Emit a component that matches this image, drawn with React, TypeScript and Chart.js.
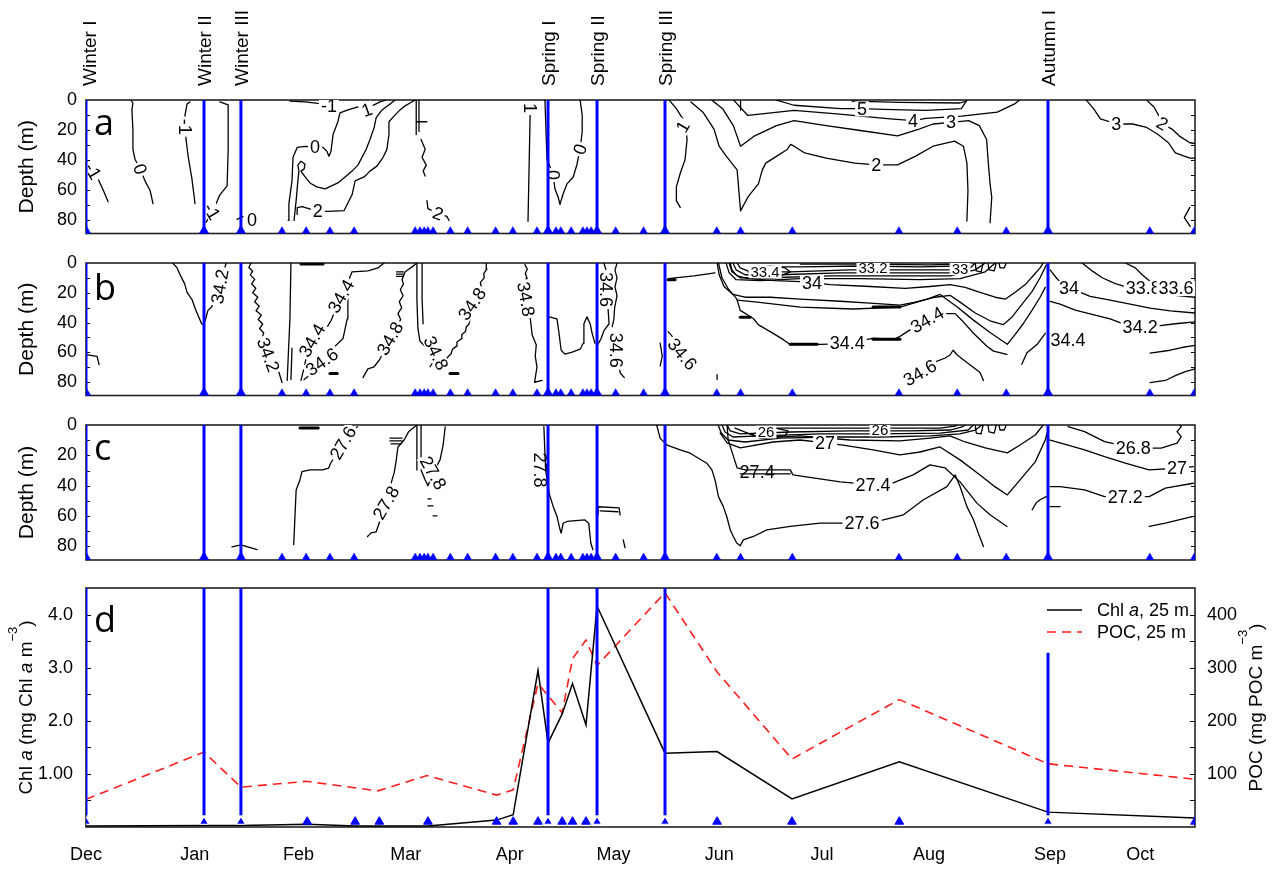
import React, { useEffect, useRef } from 'react';
import { Chart, registerables } from 'chart.js';

Chart.register(...registerables);
const FONT = '"Liberation Sans", Arial, Helvetica, sans-serif';
Chart.defaults.font.family = FONT;
Chart.defaults.color = '#000';

// ---------- time axis (days since 1 December) ----------
const X_MAX = 321.4;
const monthTickDays = [0, 31.5, 61.6, 92.7, 122.8, 152.9, 183.5, 213.3, 244.3, 279.4, 305.5];
const monthLabels = ['Dec', 'Jan', 'Feb', 'Mar', 'Apr', 'May', 'Jun', 'Jul', 'Aug', 'Sep', 'Oct'];

// sampling campaigns (blue lines)
const eventDays = [0, 34.2, 44.9, 133.9, 148.1, 167.8, 278.8];
const eventNames = ['Winter I', 'Winter II', 'Winter III', 'Spring I', 'Spring II', 'Spring III', 'Autumn I'];

// CTD casts (triangles, panels a-c)
const ctdDays = [0, 34.2, 44.9, 56.8, 63.8, 70.7, 77.7, 95.4, 96.8, 98.0, 99.1, 100.6, 105.6, 110.6, 118.7,
  123.7, 130.7, 133.9, 136.2, 137.6, 140.6, 144.0, 145.2, 146.4, 148.1, 153.5, 161.6, 167.8, 182.8, 189.7,
  204.7, 235.6, 252.5, 266.7, 278.8, 308.3, 321.2];

// ---------- depth axis ----------
const DEPTH_MAX = 89;
const TRI_DEPTH = 87.5;
const depthTicks = [0, 20, 40, 60, 80];
const depthMinorTicks = [10, 20, 30, 40, 50, 60, 70, 80];

// ---------- panel d data ----------
const chlDays = [0, 34.2, 44.9, 64.1, 78, 85, 99.1, 119, 123.8, 131, 133.9, 138, 141, 144.9, 148.1, 167.8, 182.9, 204.6, 235.7, 278.8, 321.4];
const chlValues = [0.02, 0.03, 0.03, 0.05, 0.02, 0.02, 0.02, 0.13, 0.23, 2.95, 1.58, 2.13, 2.70, 1.92, 4.16, 1.39, 1.42, 0.53, 1.23, 0.28, 0.17];
const pocDays = [0, 34.2, 44.9, 63.8, 84.6, 98.8, 119, 123.8, 131, 138, 141, 144.9, 148.1, 167.8, 182.9, 204.6, 235.7, 278.8, 321.4];
const pocValues = [52, 141, 75, 86, 68, 97, 60, 70, 270, 215, 317, 352, 304, 441, 292, 128, 240, 119, 90];
const dSampleDays = [0, 34.2, 44.9, 64.1, 78, 85, 99.1, 119, 123.8, 131, 133.9, 138, 141, 144.9, 148.1, 167.8, 182.9, 204.6, 235.7, 278.8, 321.4];
const dBlueTops = [4.5, 4.5, 4.5, 4.5, 4.5, 4.5, 3.28];
const dBlueBottom = 0.22;
const chlTickValues = [1, 2, 3, 4];
const chlTickLabels = ['1.00', '2.0', '3.0', '4.0'];
const chlMinorTicks = [0.5, 1, 1.5, 2, 2.5, 3, 3.5, 4];
const pocTickValues = [100, 200, 300, 400];
const pocMinorTicks = [50, 100, 150, 200, 250, 300, 350, 400];

// ---------- panel a: temperature contours [day, depth] ----------
const tempLines = [
  [[3.5, 52.6], [4.3, 56.6], [5.2, 61.2], [6.4, 67.8]],
  [[13.0, 0], [13.6, 2], [13.3, 6.6], [13.6, 19.7], [13.6, 32.9], [14.2, 39.5], [15.7, 46], [17.1, 53.9], [18.6, 60.5], [19.1, 65.8], [19.4, 69.1]],
  [[30.1, 1.3], [29.3, 2.6], [28.7, 9.9], [28.7, 17.8], [29.0, 26.3], [29.6, 37.5], [30.7, 52.6], [31.6, 69.1]],
  [[38.8, 1.3], [41.2, 3.3], [41.2, 32.9], [40.9, 57.2], [38.8, 63.2], [37.7, 69.1], [36.5, 74.3], [35.4, 78.9], [34.8, 81.6]],
  [[43.8, 79.6], [45.5, 77.6]],
  [[59.1, 0.7], [63.5, 1.3], [68.4, 2.6], [70.4, 3.9]],
  [[58.6, 80.3], [58.8, 69.1], [59.7, 53.9], [60.0, 38.2], [61.2, 31.6], [63.5, 30.9], [66.4, 31.6], [68.7, 31.6], [69.8, 34.2], [70.4, 37.5], [71.0, 34.2], [71.6, 23.0], [73.0, 14.5], [73.6, 8.6], [75.9, 6.6], [78.8, 4.6], [81.4, 6.6], [82.9, 3.9], [85.2, 1.3], [87.0, 0]],
  [[60.3, 80.3], [60.9, 67.1], [61.4, 53.9], [61.7, 47.4], [61.4, 43.4], [62.3, 40.8], [63.5, 42.8], [63.2, 46.1], [62.3, 47.4], [63.5, 51.3], [64.9, 55.3], [66.9, 57.9], [69.3, 59.2], [73.0, 55.3], [75.1, 51.3], [77.1, 47.4], [78.8, 43.4], [80.0, 38.2], [81.2, 32.9], [82.3, 26.3], [83.5, 18.4], [84.1, 11.8], [85.8, 6.6], [88.1, 2.6], [89.6, 0]],
  [[61.2, 76.3], [61.2, 71.7], [62.6, 71.1], [67.2, 74.3], [70.1, 74.3], [74.8, 73.7], [77.1, 63.2], [78.0, 53.9], [80.6, 51.3], [82.3, 47.4], [84.3, 44.1], [86.1, 38.2], [87.2, 32.9], [87.8, 23.0], [87.8, 14.5], [89.6, 9.9], [91.0, 6.6], [92.5, 3.9], [93.9, 2.0], [95.4, 0]],
  [[95.7, 0], [95.7, 23]],
  [[96.5, 0], [96.5, 21]],
  [[95.9, 14.5], [98.8, 14.5]],
  [[97.1, 26.3], [98.3, 32.9], [97.4, 38.2], [98.6, 43.4], [97.7, 47.4], [98.3, 50.7]],
  [[98.8, 67.1], [99.1, 72.4], [102, 75.7], [104.6, 77.6], [105.2, 80.3]],
  [[128.7, 5.3], [128.7, 11.8], [128.1, 80.9]],
  [[133.0, 0], [133.3, 19.7], [133.6, 39.5], [135.4, 50], [135.9, 59.2], [136.8, 64.5], [137.4, 69.7]],
  [[143.2, 0], [143.8, 9.9], [143.8, 21.1], [143.2, 32.9], [142.3, 42.8], [141.2, 51.3], [139.4, 55.9], [138.3, 62.5], [137.4, 69.1]],
  [[169.0, 0.1], [171.1, 5.8], [173.6, 14.9], [174.2, 26.3], [173.6, 39.9], [172.2, 49.0], [171.1, 57.9], [171.1, 67.1], [172.2, 71.6]],
  [[175.3, 1.3], [178.8, 8.1], [182.0, 19.4], [183.5, 30.8], [185.6, 37.6], [188.7, 46.6], [189.2, 60.3], [189.7, 73.9], [191.8, 64.8], [194.9, 55.7], [196.0, 46.6], [197.0, 42.1], [200.1, 37.6], [203.2, 33.0], [204.2, 29.6], [205.2, 30.8], [208.3, 35.3], [214.5, 38.7], [222.8, 42.1], [229.0, 43.2], [235.2, 43.2], [240.3, 37.6], [245.5, 30.8], [251.7, 27.4], [254.3, 30.8], [255.3, 42.1], [255.6, 60.3], [255.3, 80.7]],
  [[181.4, 0.1], [184.5, 5.8], [187.6, 17.1], [189.7, 30.8], [193.8, 23.9], [200.1, 17.1], [205.2, 13.8], [214.5, 17.1], [224.9, 20.5], [235.2, 23.9], [241.4, 19.4], [245.5, 16.0], [250.7, 14.9], [255.8, 13.8], [258.9, 17.1], [261.0, 26.3], [261.5, 42.1], [262.0, 55.7], [262.5, 64.8], [262.0, 81.8]],
  [[187.7, 0.1], [191.8, 10.3], [195.9, 9.2], [205.2, 6.9], [217.6, 9.2], [233.1, 12.6], [239.8, 13.8], [243.4, 12.2], [253.7, 10.8], [264.1, 8.1], [269.3, 2.4], [270.5, 0]],
  [[200.1, 0.1], [205.2, 3.5], [218.7, 5.8], [224.8, 5.8], [231.0, 6.3], [243.4, 6.9], [253.7, 5.8], [255.3, 0.1]],
  [[222.0, 0.7], [235.9, 1.6], [253.3, 2.0], [255.1, 0.7]],
  [[189.7, 0], [189.7, 6.9]],
  [[289.9, 0.1], [292.0, 5.8], [294.0, 12.6], [298.7, 16.0], [303.3, 16.0], [307.4, 18.3], [310.6, 22.8], [313.7, 28.5], [315.7, 35.3], [319.9, 38.7], [321.4, 38.8]],
  [[307.4, 0.1], [309.5, 4.7], [310.6, 9.2], [312.1, 16.0], [314.7, 19.4], [316.8, 23.9], [319.9, 28.5], [321.4, 29]],
  [[319.9, 71.6], [318.3, 78.4], [320.0, 84.2]],
];
const tempThick = [];
const tempLabels = [
  { x: 2.0, y: 47.4, t: '-1', r: 60 }, { x: 15.7, y: 46.1, t: '0', r: 70 }, { x: 28.7, y: 17.8, t: '-1', r: 90 },
  { x: 36.5, y: 74.3, t: '-1', r: 60 }, { x: 48.1, y: 80.3, t: '0', r: 0 }, { x: 70.4, y: 3.9, t: '-1', r: 0 },
  { x: 66.4, y: 31.6, t: '0', r: 0 }, { x: 81.4, y: 6.6, t: '1', r: -20 }, { x: 67.2, y: 74.3, t: '2', r: 0 },
  { x: 102.0, y: 75.7, t: '2', r: 20 }, { x: 128.7, y: 5.3, t: '1', r: 90 }, { x: 135.4, y: 50.0, t: '0', r: 90 },
  { x: 143.2, y: 32.9, t: '0', r: -70 }, { x: 173.0, y: 17.8, t: '1', r: -60 }, { x: 229.0, y: 43.4, t: '2', r: 0 },
  { x: 250.7, y: 14.5, t: '3', r: 0 }, { x: 239.7, y: 13.8, t: '4', r: 0 }, { x: 224.9, y: 5.9, t: '5', r: 0 },
  { x: 298.6, y: 15.8, t: '3', r: 0 }, { x: 311.9, y: 15.8, t: '2', r: 30 },
];

// ---------- panel b: salinity contours ----------
const salLines = [
  [[0, 61.6], [3.2, 62.7], [3.8, 68.2]],
  [[25.2, 0.2], [26.4, 3.3], [27.5, 9.0], [28.6, 14], [29.3, 19.7], [30.8, 25], [31.7, 30.9], [33.5, 40.8], [34.1, 41.4], [34.7, 37.5], [35.3, 32.0], [36.4, 29.6], [38.8, 15.8], [40.6, 0]],
  [[47.8, 0], [47.2, 3], [48.3, 5.5], [47.6, 8], [48.9, 11], [48.0, 14], [49.2, 17], [48.3, 20], [49.8, 23], [48.9, 26], [50.2, 29], [49.3, 32], [50.8, 35], [49.9, 38], [51.2, 41], [50.3, 44], [51.5, 47], [51.0, 50.7], [52, 56], [53.5, 64], [55.7, 71.7], [56.8, 80.3]],
  [[59.4, 0], [59.1, 37.5], [58.3, 78.9]],
  [[59.7, 57.2], [59.4, 78.3]],
  [[63.2, 78.3], [65, 75], [68.4, 66.4], [70.5, 60], [71.6, 57.2], [74.5, 50.7], [75.7, 37.5], [75.9, 24.3], [76.2, 11.2], [77.1, 5.9], [81.7, 5.3], [84.6, 3.3], [86.4, 0]],
  [[62.3, 78.9], [63.2, 70.4], [63.8, 63.8], [65.5, 50.7], [67.8, 45.4], [69.6, 44.1], [71.0, 38.8], [73.0, 27.6], [74.8, 17.8], [75.7, 12.5]],
  [[80.3, 77.0], [80.9, 74.3], [81.7, 71.1], [83.5, 69.7], [85.2, 64.5], [88.1, 50], [90.1, 42.1], [91.2, 38], [90.4, 34], [91.5, 30], [90.8, 26], [91.9, 22], [91.1, 18], [92.0, 14], [91.6, 11.2], [92.5, 5.9], [94.5, 2.6], [95.9, 0]],
  [[90, 6], [92, 6]], [[90, 7.5], [92, 7.5]], [[90, 9], [92, 9]],
  [[95.9, 0], [95.9, 24.3], [96.2, 44.1], [96.8, 52.6], [98.3, 55.9]],
  [[97.4, 0], [97.4, 24.3], [97.7, 40.8]],
  [[99.7, 69.7], [100.8, 65.8], [101.7, 71.7], [102.9, 66.4], [103.8, 70.4]],
  [[104.6, 63.8], [105.8, 61], [106.2, 58], [107.3, 56], [107.5, 53], [108.7, 51], [108.9, 48], [110.0, 46], [110.2, 43], [111.0, 41], [111.9, 27.6], [113.3, 19], [114.5, 16], [114.3, 13], [115.4, 10], [115.3, 7], [116.2, 4], [116.0, 0]],
  [[127.2, 1.1], [127.9, 4], [127.3, 7], [127.8, 9.9], [127.6, 20], [128.3, 29.6], [128.8, 38], [129.3, 48.2], [130.5, 55], [130.2, 62.5], [130.7, 70], [130.0, 80.1], [132.2, 78.9]],
  [[134.2, 36.2], [136.5, 37.5], [137.1, 47.4], [137.7, 58.6], [138.8, 61.2], [140.9, 59.9], [143.2, 57.9], [144.1, 53.9], [144.3, 40.8], [145.2, 36.2], [146.1, 40.8], [146.7, 47.4], [147.5, 53.9]],
  [[150.1, 0], [150.7, 4.6], [150.4, 9.9], [150.7, 17.8], [151.3, 30.9], [151.6, 40.8], [150.1, 45.4], [149.3, 50.7], [148.4, 54.6]],
  [[153.9, 0], [153.3, 5], [153.9, 10], [153.3, 16], [153.9, 22], [153.2, 30], [153.0, 37.5], [152.5, 42.8]],
  [[153.6, 58.6], [154.8, 73.7], [156.0, 77.0]],
  [[166.4, 53.9], [167.0, 62.5], [166.4, 69.1]],
  [[168.7, 46.1], [169.9, 49.3], [172.8, 61.2]],
  [[182.9, 75], [182.9, 78.3]],
  [[168.7, 10.5], [176.2, 8.6], [182.3, 6.6]],
  // summer
  [[183.3, 0], [184.3, 9.9], [186.2, 17.6], [188.6, 24.1], [189.6, 31.8], [193.4, 37.3], [194.9, 41.6], [198.3, 46.1], [202.1, 51.5], [204.1, 54.8], [212.8, 54.6], [220.5, 54.1], [228.2, 50.5], [234, 51.5], [235.9, 49.3], [238.8, 44.9], [243.7, 38.4], [249.5, 34.0], [251.9, 34.0], [253.8, 38.4], [257.2, 47.2], [261.1, 55.9], [263, 59.2], [266.9, 61.4]],
  [[236.9, 76.8], [241.7, 73.5], [245.6, 66.9], [249, 63.8], [250.4, 61.8], [251.3, 58.6], [252.5, 61.8], [255.3, 66.9], [257.2, 70.2], [259.1, 73.5], [260.1, 78.9]],
  [[186.7, 0], [187.2, 4.6], [188.7, 8.6], [191.9, 10.5], [199.7, 11.8], [207, 12.5], [210.4, 13.2], [215.7, 14.5], [227.2, 15.8], [237.4, 17.1], [244.6, 15.8], [250.4, 14.5], [254.8, 16.4], [259.1, 19.7], [263.5, 23], [266.4, 24.3], [269.3, 19.7], [272.2, 14.5], [274.5, 8.6], [276.5, 3.3], [277.4, 0]],
  [[182.9, 0], [183.5, 7.9], [184.9, 15.8], [187.5, 21.1], [191, 23], [198.3, 23], [207, 24.3], [218.6, 25.7], [227.2, 27], [235.9, 28.3], [240.3, 26.3], [246.1, 23], [250.4, 21.7], [253.3, 26.3], [257.7, 33.6], [262, 38.8], [265.8, 41.4], [268.4, 36.2], [271.3, 27.6], [274.2, 19.1], [276.5, 9.9], [278.3, 1.3]],
  [[188.7, 25], [194.5, 26.3], [207, 29.6], [222.3, 30.9], [235.9, 29.6], [243.8, 24.3], [247.5, 21.1], [252.5, 29.6], [257.1, 38.2], [262, 46.7], [267, 54.6], [269.3, 48], [271.6, 40.8], [274.2, 31.6], [276.5, 23], [278, 16.4]],
  [[271.2, 68], [272.7, 60.3], [275.6, 54.8], [278, 47.2]],
  [[185.5, 0], [186.4, 6.6], [188.4, 11.2], [195.4, 11.8], [207, 10.5], [224.3, 10.5], [241.7, 11.2], [253.3, 10.5], [260.6, 5.9], [263.5, 0]],
  [[186.4, 0], [187.2, 5.9], [189.6, 9.9], [198.3, 9.9], [215.7, 8.6], [233, 8.6], [250.4, 8.6], [257.7, 4.6], [260.6, 0]],
  [[187.5, 0], [188.4, 4.6], [191, 7.9], [201.2, 7.9], [218.6, 6.6], [235.9, 6.6], [250.4, 6.6], [256.2, 3.3], [257.7, 0]],
  [[188.7, 0], [189.6, 3.3], [192.5, 5.9], [204.1, 5.9], [221.4, 4.6], [238.8, 4.6], [251.9, 4.6], [254.8, 2.0], [255.7, 0]],
  [[195.4, 2.6], [207, 2.6], [224.3, 2.0], [241.7, 2.6], [252.8, 2.0], [253.9, 0]],
  [[207, 0.7], [224.3, 0.7], [244.6, 1.3], [251.9, 0.7]],
  [[191.9, 5.9], [193.9, 3.3], [198.3, 2.0], [202.6, 3.3], [204.1, 5.9], [201.2, 8.6], [195.4, 9.2], [191.9, 5.9]],
  [[257.7, 0], [258, 5.3], [259.4, 5.9], [260, 0]],
  [[261.4, 0], [261.7, 4.6], [263.2, 5.3], [263.8, 0]],
  [[264.6, 0], [264.9, 3.3], [266.1, 3.3], [266.7, 0]],
  // autumn
  [[279.4, 4.6], [281.2, 9.9], [282.9, 14.5], [284.9, 17.1], [287.5, 19.1], [291, 22.4], [296.8, 25], [302.6, 27.6], [308.4, 30.3], [314.2, 32.2], [321.4, 33.6]],
  [[288.7, 0], [291.6, 5.3], [294.5, 9.9], [298.3, 13.8], [301.2, 15.8], [306.4, 17.1], [311.3, 19.1], [315.7, 21.7], [321.4, 23]],
  [[301.2, 0], [304.1, 3.3], [306.1, 7.9], [308.4, 12.5], [310.7, 15.1], [315.9, 17.1]],
  [[279.4, 25.7], [282.3, 27.6], [286.7, 31.6], [291, 34.2], [296.8, 37.5], [301.2, 41.4], [305.5, 42.8], [311.3, 42.1], [315.7, 40.8], [321.4, 39.5]],
  [[308.4, 60.5], [314.2, 58.6], [317.9, 56.6], [321.4, 55.3]],
  [[308.4, 80.3], [312.8, 78.9], [315.7, 75.7], [318.6, 73], [321.4, 71.1]],
];
const salThick = [
  [[62.3, 0.7], [68.7, 0.7]], [[70.7, 74.3], [72.8, 74.3]], [[105.5, 74.3], [107.8, 74.3]], [[168.7, 11.2], [170.7, 11.2]],
  [[204.1, 54.6], [211.9, 54.6]], [[228.1, 51.3], [235.9, 51.3]], [[228.1, 29.6], [235.9, 29.6]], [[189.6, 36.5], [192.5, 36.5]],
];
const salLabels = [
  { x: 38.8, y: 15.8, t: '34.2', r: -80 }, { x: 52.8, y: 61.8, t: '34.2', r: 70 }, { x: 65.5, y: 52.0, t: '34.4', r: -60 },
  { x: 73.9, y: 22.4, t: '34.4', r: -60 }, { x: 68.4, y: 66.4, t: '34.6', r: -35 }, { x: 88.1, y: 50.7, t: '34.8', r: -60 },
  { x: 101.4, y: 60.5, t: '34.8', r: 65 }, { x: 111.9, y: 27.6, t: '34.8', r: -55 }, { x: 127.5, y: 24.3, t: '34.8', r: 80 },
  { x: 150.7, y: 17.8, t: '34.6', r: 90 }, { x: 153.6, y: 58.6, t: '34.6', r: 90 }, { x: 172.8, y: 61.2, t: '34.6', r: 50 },
  { x: 196.8, y: 5.9, t: '33.4', r: 0, s: 15 }, { x: 210.4, y: 13.2, t: '34', r: 0 }, { x: 228.1, y: 3.3, t: '33.2', r: 0, s: 15 },
  { x: 253.3, y: 3.9, t: '33', r: 0, s: 15 }, { x: 220.6, y: 53.9, t: '34.4', r: 0 }, { x: 243.8, y: 38.2, t: '34.4', r: -30 },
  { x: 241.7, y: 73.7, t: '34.6', r: -30 }, { x: 284.9, y: 17.1, t: '34', r: 0 }, { x: 306.4, y: 17.1, t: '33.8', r: 0 },
  { x: 315.9, y: 17.1, t: '33.6', r: 0 }, { x: 305.5, y: 42.8, t: '34.2', r: 0 }, { x: 284.6, y: 52.0, t: '34.4', r: 0 },
];

// ---------- panel c: density contours ----------
const densLines = [
  [[42.3, 80.3], [44.9, 79.0], [49.6, 82.2]],
  [[60.2, 78.9], [60.9, 42.8], [62.0, 36.2], [62.6, 30.7], [64.9, 29.6], [68.6, 29.6], [70.3, 28.5], [70.9, 25.2], [74.5, 12], [78.0, 3.3], [78.6, 1.1]],
  [[81.6, 73.5], [82.6, 71.1], [84.1, 70.4], [87, 51.3], [88.7, 36.2], [89.3, 31.6], [89.8, 25], [90.4, 14.5], [92.2, 9.9], [93.5, 4.4], [94.7, 2.2], [95.9, 0]],
  [[88.1, 8.6], [91.6, 8.6]], [[88.1, 10.5], [91.6, 10.5]], [[88.4, 12.5], [91.3, 12.5]],
  [[95.9, 0], [95.9, 29.6]],
  [[97.1, 0], [97.1, 26.3]],
  [[97.1, 29.6], [98.3, 36.2], [99.1, 40.1], [100.6, 31.6], [102.6, 23.0], [103.5, 13.2], [104.1, 1.3]],
  [[99.1, 48.7], [100, 48.7]], [[99.1, 53.3], [100.6, 53.3]], [[100.6, 59.9], [101.7, 59.9]],
  [[132.7, 1.1], [133, 18.4], [133.2, 29.6], [134.2, 44.9], [135.4, 53.8], [136.5, 60.3], [137.4, 69.1], [137.7, 71.3], [138.3, 64.7], [139.4, 63.6], [144.5, 62.5], [145.7, 64.7], [146.3, 77.8], [146.9, 82.2]],
  [[148.4, 59.2], [148.4, 53.9], [154.5, 54.6], [154.8, 59.2]],
  [[149, 56.6], [154.2, 57.2]],
  [[155.7, 75.7], [156.2, 80.9]],
  [[165.4, 0], [166.4, 8.8], [168.4, 13.2], [172.2, 16.4], [175.1, 18.6], [179.9, 25.2], [181.4, 29.6], [182.3, 36.2], [183.3, 47.2], [184.7, 53.8], [185.7, 60.3], [186.7, 69.1], [187.6, 73.5], [188.6, 77.8], [189.6, 79.6], [190.5, 75.7], [193.4, 73.5], [197.3, 69.1], [204.1, 66.9], [212.8, 64.7], [224.8, 64.7], [231.1, 62.5], [236.9, 59.2], [242.7, 49.3], [249.5, 40.6], [251.9, 32.9], [253.3, 40.6], [255.3, 53.8], [257.2, 62.5], [258.6, 71.3], [260.1, 80.1]],
  [[185.8, 0], [186.1, 9.9], [187.5, 19.7], [188.7, 28.3], [191.0, 29.6], [204.1, 29.6], [204.9, 32.9], [210.7, 34.9], [218.6, 37.5], [228.1, 39.5], [233.9, 38.2], [239.7, 32.9], [244.6, 26.3], [249.0, 28.3], [253.3, 37.5], [258.2, 51.5], [262.0, 59.2], [266.9, 66.9]],
  [[189.6, 32.2], [204.1, 32.2]],
  [[183.8, 5.3], [185.8, 11.8], [189.6, 15.1], [199.1, 11.2], [207, 9.9], [214.2, 11.8], [219.4, 13.2], [228.1, 16.4], [235.9, 19.7], [241.7, 17.8], [247.5, 14.5], [253.3, 23.0], [259.1, 32.9], [263.5, 40.8], [267, 46.1], [270.7, 36.2], [275.1, 24.3], [278, 9.9], [278.8, 3.3]],
  [[188.1, 2.0], [195.4, 8.6], [207, 7.2], [221.4, 9.9], [235.9, 10.5], [244.6, 8.6], [250.4, 7.2], [254.8, 11.2], [260.6, 15.1], [267, 18.4], [270.7, 13.2], [275.1, 6.6], [277.4, 0]],
  [[183.2, 0], [184.1, 5.3], [186.1, 9.9], [191, 11.2], [201.2, 8.6], [215.7, 7.9], [230.1, 7.9], [244.6, 7.2], [253.3, 5.9], [257.7, 3.3], [259.7, 0]],
  [[184.3, 0], [185.2, 4.6], [187.5, 7.9], [195.4, 7.2], [212.8, 5.9], [230.1, 5.9], [247.5, 5.3], [255.7, 3.3], [257.1, 0]],
  [[185.8, 0], [186.7, 3.9], [189.6, 5.9], [204.1, 4.6], [221.4, 3.9], [238.8, 3.9], [250.4, 3.3], [253.9, 1.3], [254.8, 0]],
  [[195.4, 2.0], [212.8, 2.0], [230.1, 2.0], [247.5, 2.0], [251.9, 0.7], [252.5, 0]],
  [[193.1, 6.6], [195.4, 3.3], [199.7, 2.0], [203.5, 3.9], [202.6, 7.2], [196.8, 8.6], [193.1, 6.6]],
  [[257.7, 0], [258, 5.3], [259.4, 5.9], [260, 0]],
  [[261.4, 0], [261.7, 4.6], [263.2, 5.3], [263.8, 0]],
  [[264.6, 0], [264.9, 3.3], [266.1, 3.3], [266.7, 0]],
  [[284.6, 1.1], [289.4, 4.4], [295.2, 11.0], [303.5, 15.3], [311.6, 15.3], [316.2, 12.0], [317.4, 7.7], [316.2, 4.4], [317.4, 1.1], [317, 0]],
  [[279.4, 9.9], [284.6, 13.2], [289.4, 16.4], [295.2, 20.9], [301.2, 25.2], [308.1, 29.6], [316.2, 28.5], [320.9, 27.4]],
  [[279.4, 40.6], [282.3, 40.6], [289.4, 42.8], [295.2, 47.2], [301.2, 47.2], [308.1, 47.2], [312.8, 41.6], [320.9, 38.4]],
  [[308.1, 66.9], [312.8, 64.7], [320.9, 60.3]],
  [[274.2, 55.9], [275.4, 51.3], [276.5, 49.3], [278.3, 47.2]],
  [[279.4, 53.8], [282.3, 53.8]],
];
const densThick = [[[62.0, 2], [67.3, 2]]];
const densLabels = [
  { x: 74.5, y: 11.8, t: '27.6', r: -60 }, { x: 87.0, y: 51.3, t: '27.8', r: -60 }, { x: 100.6, y: 31.6, t: '27.8', r: 60 },
  { x: 131.6, y: 29.6, t: '27.8', r: 90, bg: false }, { x: 197.1, y: 4.6, t: '26', r: 0, s: 15 }, { x: 230.1, y: 3.3, t: '26', r: 0, s: 15 },
  { x: 214.2, y: 11.8, t: '27', r: 0 }, { x: 194.5, y: 30.9, t: '27.4', r: 0, bg: false }, { x: 228.1, y: 39.5, t: '27.4', r: 0 },
  { x: 224.9, y: 64.5, t: '27.6', r: 0 }, { x: 303.5, y: 15.1, t: '26.8', r: 0 }, { x: 316.2, y: 28.3, t: '27', r: 0 },
  { x: 301.2, y: 47.4, t: '27.2', r: 0 },
];

const BLUE = '#0000ff';

function lineDs(pts, width) {
  return {
    data: pts.map((p) => ({ x: p[0], y: p[1] })),
    showLine: true, borderColor: '#000', borderWidth: width, pointRadius: 0, pointHoverRadius: 0,
    fill: false, tension: 0, borderJoinStyle: 'round', borderCapStyle: 'round',
  };
}

function drawRich(ctx, segs, cx, cy, rot, size, align) {
  ctx.save();
  ctx.translate(cx, cy);
  ctx.rotate(rot);
  const fonts = segs.map((s) => `${s.i ? 'italic ' : ''}${s.sup ? Math.round(size * 0.68) : size}px ${FONT}`);
  const widths = segs.map((s, k) => { ctx.font = fonts[k]; return ctx.measureText(s.t).width; });
  const total = widths.reduce((a, b) => a + b, 0);
  let xx = align === 'left' ? 0 : -total / 2;
  ctx.textAlign = 'left';
  ctx.textBaseline = 'alphabetic';
  ctx.fillStyle = '#000';
  segs.forEach((s, k) => {
    ctx.font = fonts[k];
    ctx.fillText(s.t, xx, s.sup ? -size * 0.4 : size * 0.36);
    xx += widths[k];
  });
  ctx.restore();
}

function drawLabels(chart, labels) {
  const { ctx, chartArea: a } = chart;
  const xs = chart.scales.x;
  const ys = chart.scales.y;
  ctx.save();
  ctx.beginPath();
  ctx.rect(a.left, a.top, a.right - a.left, a.bottom - a.top);
  ctx.clip();
  labels.forEach((l) => {
    const size = l.s || 18;
    ctx.save();
    ctx.translate(xs.getPixelForValue(l.x), ys.getPixelForValue(l.y));
    ctx.rotate((l.r * Math.PI) / 180);
    ctx.font = `${size}px ${FONT}`;
    const w = ctx.measureText(l.t).width;
    if (l.bg !== false) {
      ctx.fillStyle = '#fff';
      ctx.fillRect(-w / 2 - 2, -size * 0.42, w + 4, size * 0.84);
    }
    ctx.fillStyle = '#000';
    ctx.textAlign = 'center';
    ctx.textBaseline = 'middle';
    ctx.fillText(l.t, 0, 1);
    ctx.restore();
  });
  ctx.restore();
}

function drawFrame(ctx, a) {
  ctx.save();
  ctx.strokeStyle = '#222';
  ctx.lineWidth = 1.6;
  ctx.strokeRect(a.left, a.top, a.right - a.left, a.bottom - a.top);
  ctx.restore();
}

function depthPanel(opts) {
  const datasets = [];
  datasets.push({
    data: ctdDays.map((d) => ({ x: d, y: TRI_DEPTH })), showLine: false, pointStyle: 'triangle',
    pointRadius: ctdDays.map((d) => (eventDays.includes(d) ? 6 : 4.6)), pointHoverRadius: 0,
    pointBackgroundColor: BLUE, pointBorderColor: BLUE, pointBorderWidth: 0.5,
  });
  eventDays.forEach((d) => datasets.push({
    data: [{ x: d, y: 0 }, { x: d, y: DEPTH_MAX }], showLine: true, borderColor: BLUE, borderWidth: 3, pointRadius: 0, pointHoverRadius: 0,
  }));
  const firstContour = datasets.length;
  opts.lines.forEach((l) => datasets.push(lineDs(l, 1.3)));
  opts.thick.forEach((l) => datasets.push(lineDs(l, 3)));

  const decor = {
    id: 'decor' + opts.letter,
    beforeDatasetsDraw(chart) {
      const { ctx, chartArea: a } = chart;
      const ys = chart.scales.y;
      ctx.save();
      ctx.strokeStyle = '#000';
      ctx.lineWidth = 1;
      depthMinorTicks.forEach((v) => {
        const py = Math.round(ys.getPixelForValue(v)) + 0.5;
        ctx.beginPath();
        ctx.moveTo(a.left, py); ctx.lineTo(a.left + 4, py);
        ctx.moveTo(a.right - 4, py); ctx.lineTo(a.right, py);
        ctx.stroke();
      });
      ctx.restore();
      drawFrame(ctx, a);
    },
    afterDatasetDraw(chart, args) {
      if (args.index === firstContour) drawLabels(chart, opts.labels);
    },
    afterDraw(chart) {
      const { ctx, chartArea: a } = chart;
      const xs = chart.scales.x;
      ctx.save();
      ctx.fillStyle = '#000';
      ctx.font = `36px "Open Sans", "DejaVu Sans", sans-serif`;
      ctx.textBaseline = 'alphabetic';
      ctx.textAlign = 'left';
      ctx.fillText(opts.letter, a.left + 8, a.top + opts.letterDy);
      ctx.restore();
      drawRich(ctx, [{ t: 'Depth (m)' }], 25, (a.top + a.bottom) / 2, -Math.PI / 2, 21, 'center');
      if (opts.top) {
        ctx.save();
        ctx.fillStyle = '#000';
        ctx.font = `19px ${FONT}`;
        ctx.textAlign = 'left';
        ctx.textBaseline = 'middle';
        eventDays.forEach((d, i) => {
          ctx.save();
          ctx.translate(xs.getPixelForValue(d) + (i === 0 ? 5 : 2), 86);
          ctx.rotate(-Math.PI / 2);
          ctx.fillText(eventNames[i], 0, 0);
          ctx.restore();
        });
        ctx.restore();
      }
    },
  };

  return {
    type: 'scatter',
    data: { datasets },
    options: {
      responsive: false, animation: false, devicePixelRatio: 1, events: [],
      layout: { padding: { top: opts.padTop, bottom: opts.padBottom, left: 0, right: 79 } },
      plugins: { legend: { display: false }, tooltip: { enabled: false } },
      scales: {
        x: { type: 'linear', min: 0, max: X_MAX, display: false },
        y: {
          type: 'linear', reverse: true, min: 0, max: DEPTH_MAX,
          grid: { display: false, drawTicks: false }, border: { display: false },
          ticks: { padding: 9, font: { size: 18, family: FONT }, color: '#000' },
          afterBuildTicks: (s) => { s.ticks = depthTicks.map((v) => ({ value: v })); },
          afterFit: (s) => { s.width = 86; s.paddingTop = 0; s.paddingBottom = 0; },
        },
      },
    },
    plugins: [decor],
  };
}

function chlPanel() {
  const datasets = [];
  datasets.push({
    data: dSampleDays.map((d) => ({ x: d, y: 0.1 })), showLine: false, pointStyle: 'triangle', pointRadius: 5, pointHoverRadius: 0,
    pointBackgroundColor: BLUE, pointBorderColor: dSampleDays.map((d) => (eventDays.includes(d) ? '#ffffff' : BLUE)),
    pointBorderWidth: 1, yAxisID: 'y',
  });
  eventDays.forEach((d, i) => datasets.push({
    data: [{ x: d, y: dBlueBottom }, { x: d, y: dBlueTops[i] }], showLine: true, borderColor: BLUE, borderWidth: 3,
    pointRadius: 0, pointHoverRadius: 0, yAxisID: 'y',
  }));
  datasets.push({
    data: chlDays.map((d, i) => ({ x: d, y: chlValues[i] })), showLine: true, borderColor: '#000', borderWidth: 1.5,
    pointRadius: 0, pointHoverRadius: 0, tension: 0, yAxisID: 'y',
  });
  datasets.push({
    data: pocDays.map((d, i) => ({ x: d, y: pocValues[i] })), showLine: true, borderColor: '#ff1e1e', borderWidth: 1.6,
    borderDash: [9, 6], pointRadius: 0, pointHoverRadius: 0, tension: 0, yAxisID: 'y1',
  });

  const decor = {
    id: 'decorD',
    beforeDatasetsDraw(chart) {
      const { ctx, chartArea: a } = chart;
      const ys = chart.scales.y;
      const y1 = chart.scales.y1;
      ctx.save();
      ctx.strokeStyle = '#000';
      ctx.lineWidth = 1;
      chlMinorTicks.forEach((v) => {
        const py = Math.round(ys.getPixelForValue(v)) + 0.5;
        ctx.beginPath(); ctx.moveTo(a.left, py); ctx.lineTo(a.left + 5, py); ctx.stroke();
      });
      pocMinorTicks.forEach((v) => {
        const py = Math.round(y1.getPixelForValue(v)) + 0.5;
        ctx.beginPath(); ctx.moveTo(a.right - 5, py); ctx.lineTo(a.right, py); ctx.stroke();
      });
      ctx.restore();
      drawFrame(ctx, a);
    },
    afterDraw(chart) {
      const { ctx, chartArea: a } = chart;
      ctx.save();
      ctx.fillStyle = '#000';
      ctx.font = `36px "Open Sans", "DejaVu Sans", sans-serif`;
      ctx.fillText('d', a.left + 8, a.top + 44);
      ctx.restore();
      const cy = (a.top + a.bottom) / 2;
      drawRich(ctx, [{ t: 'Chl ' }, { t: 'a', i: true }, { t: ' (mg Chl ' }, { t: 'a', i: true }, { t: ' m' }, { t: '\u22123', sup: true }, { t: ')' }],
        25, cy, -Math.PI / 2, 19, 'center');
      drawRich(ctx, [{ t: 'POC (mg POC m' }, { t: '\u22123', sup: true }, { t: ')' }], a.right + 60, cy, -Math.PI / 2, 19, 'center');
      // legend
      const lx0 = a.right - 148;
      const lx1 = a.right - 113;
      const tx = a.right - 98;
      const r1 = a.top + 22;
      const r2 = a.top + 44;
      ctx.save();
      ctx.lineWidth = 1.5;
      ctx.strokeStyle = '#000';
      ctx.beginPath(); ctx.moveTo(lx0, r1); ctx.lineTo(lx1, r1); ctx.stroke();
      ctx.strokeStyle = '#ff1e1e';
      ctx.setLineDash([9, 6]);
      ctx.beginPath(); ctx.moveTo(lx0, r2); ctx.lineTo(lx1, r2); ctx.stroke();
      ctx.restore();
      drawRich(ctx, [{ t: 'Chl ' }, { t: 'a', i: true }, { t: ', 25 m' }], tx, r1, 0, 18, 'left');
      drawRich(ctx, [{ t: 'POC, 25 m' }], tx, r2, 0, 18, 'left');
    },
  };

  return {
    type: 'scatter',
    data: { datasets },
    options: {
      responsive: false, animation: false, devicePixelRatio: 1, events: [],
      layout: { padding: { top: 23, bottom: 0, left: 0, right: 0 } },
      plugins: { legend: { display: false }, tooltip: { enabled: false } },
      scales: {
        x: {
          type: 'linear', min: 0, max: X_MAX, grid: { display: false, drawTicks: false }, border: { display: false },
          ticks: {
            padding: 17, font: { size: 18, family: FONT }, color: '#000', autoSkip: false, maxRotation: 0,
            callback: (v, i) => monthLabels[i],
          },
          afterBuildTicks: (s) => { s.ticks = monthTickDays.map((v) => ({ value: v })); },
          afterFit: (s) => { s.height = 43; s.paddingLeft = 0; s.paddingRight = 0; },
        },
        y: {
          type: 'linear', position: 'left', min: 0, max: 4.5, grid: { display: false, drawTicks: false }, border: { display: false },
          ticks: { padding: 13, font: { size: 18, family: FONT }, color: '#000', callback: (v, i) => chlTickLabels[i] },
          afterBuildTicks: (s) => { s.ticks = chlTickValues.map((v) => ({ value: v })); },
          afterFit: (s) => { s.width = 86; s.paddingTop = 0; s.paddingBottom = 0; },
        },
        y1: {
          type: 'linear', position: 'right', min: 0, max: 450, grid: { display: false, drawTicks: false }, border: { display: false },
          ticks: { padding: 12, font: { size: 18, family: FONT }, color: '#000' },
          afterBuildTicks: (s) => { s.ticks = pocTickValues.map((v) => ({ value: v })); },
          afterFit: (s) => { s.width = 79; s.paddingTop = 0; s.paddingBottom = 0; },
        },
      },
    },
    plugins: [decor],
  };
}

export default function App() {
  const refA = useRef(null);
  const refB = useRef(null);
  const refC = useRef(null);
  const refD = useRef(null);

  useEffect(() => {
    const charts = [
      new Chart(refA.current, depthPanel({ lines: tempLines, thick: tempThick, labels: tempLabels, letter: 'a', letterDy: 35, padTop: 100, padBottom: 5, top: true })),
      new Chart(refB.current, depthPanel({ lines: salLines, thick: salThick, labels: salLabels, letter: 'b', letterDy: 37, padTop: 23, padBottom: 5, top: false })),
      new Chart(refC.current, depthPanel({ lines: densLines, thick: densThick, labels: densLabels, letter: 'c', letterDy: 35, padTop: 23, padBottom: 7, top: false })),
      new Chart(refD.current, chlPanel()),
    ];
    return () => charts.forEach((c) => c.destroy());
  }, []);

  const cs = (top) => ({ position: 'absolute', left: 0, top, display: 'block' });
  return (
    <div style={{ position: 'absolute', left: 0, top: 0, width: 1274, height: 870, background: '#fff', overflow: 'hidden' }}>
      <canvas ref={refA} width={1274} height={240} style={cs(0)} />
      <canvas ref={refB} width={1274} height={162} style={cs(240)} />
      <canvas ref={refC} width={1274} height={165} style={cs(402)} />
      <canvas ref={refD} width={1274} height={305} style={cs(565)} />
    </div>
  );
}
